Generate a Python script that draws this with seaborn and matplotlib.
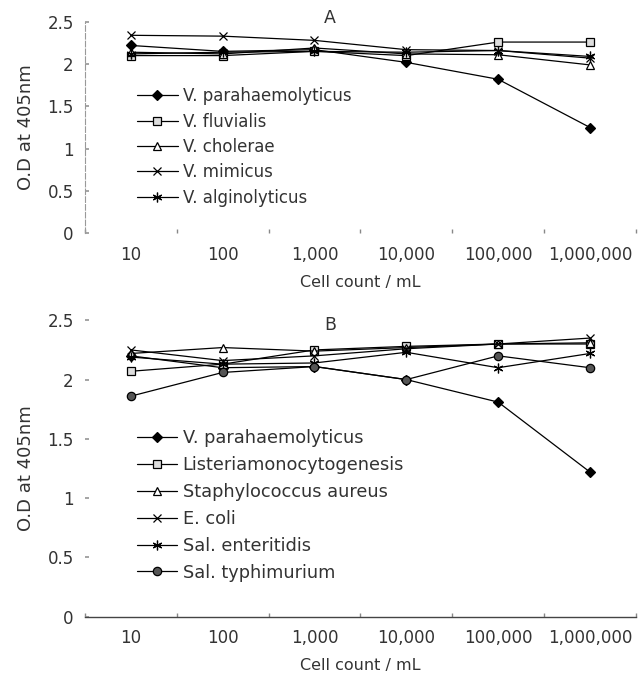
import matplotlib
matplotlib.use("Agg")
import matplotlib.pyplot as plt
import numpy as np
import pandas as pd
import seaborn as sns

# x categories (cell count / mL)
cell_counts = ["10", "100", "1,000", "10,000", "100,000", "1,000,000"]

# Panel A - Vibrio species
vib_names = ["V. parahaemolyticus", "V. fluvialis", "V. cholerae",
             "V. mimicus", "V. alginolyticus"]
v_para = [2.22, 2.15, 2.17, 2.02, 1.82, 1.25]
v_fluv = [2.10, 2.10, 2.15, 2.10, 2.26, 2.26]
v_chol = [2.14, 2.12, 2.19, 2.12, 2.11, 1.99]
v_mimi = [2.34, 2.33, 2.28, 2.17, 2.16, 2.07]
v_algi = [2.12, 2.14, 2.15, 2.14, 2.16, 2.09]

# Panel B - other bacteria
oth_names = ["V. parahaemolyticus", "Listeriamonocytogenesis",
             "Staphylococcus aureus", "E. coli", "Sal. enteritidis",
             "Sal. typhimurium"]
b_para = [2.20, 2.10, 2.11, 2.00, 1.81, 1.22]
b_list = [2.07, 2.13, 2.25, 2.28, 2.30, 2.30]
b_stap = [2.22, 2.27, 2.24, 2.27, 2.30, 2.31]
b_ecol = [2.25, 2.16, 2.20, 2.26, 2.30, 2.35]
b_salE = [2.19, 2.13, 2.14, 2.23, 2.10, 2.22]
b_salT = [1.86, 2.06, 2.11, 2.00, 2.20, 2.10]

# marker style per series: (marker, size, facecolor)
sty_a = [("D", 5, "black"), ("s", 6, "#dddddd"), ("^", 6, "white"),
         ("x", 6, "black"), ((6, 2, 0), 7, "black")]
sty_b = [("D", 5, "black"), ("s", 6, "#dddddd"), ("^", 6, "white"),
         ("x", 6, "black"), ((6, 2, 0), 7, "black"), ("o", 6, "#555555")]

sns.set_theme(style="white")
plt.rcParams["font.family"] = ["DejaVu Sans"]

TXT = "#333333"


def draw_panel(ax, names, series, styles, title, title_y, leg_y, leg_fs,
               spacing, hlen):
    pos = np.arange(len(cell_counts))
    df = pd.DataFrame({"pos": np.tile(pos, len(names)),
                       "od": np.concatenate(series),
                       "sp": np.repeat(names, len(pos))})
    handles = []
    for name, (mk, ms, fc) in zip(names, styles):
        sub = df[df["sp"] == name]
        sns.lineplot(data=sub, x="pos", y="od", ax=ax, color="black",
                     lw=0.9, marker=mk, markersize=ms, markerfacecolor=fc,
                     markeredgecolor="black", markeredgewidth=0.9,
                     label=name, legend=False)
        handles.append(ax.lines[-1])
    ax.set_xlim(-0.5, len(cell_counts) - 0.5)
    ax.set_ylim(0, 2.5)
    ax.set_yticks([0, 0.5, 1, 1.5, 2, 2.5])
    ax.set_yticklabels(["0", "0.5", "1", "1.5", "2", "2.5"])
    ax.set_xticks(pos)
    ax.set_xticklabels(cell_counts)
    ax.set_xticks(np.arange(-0.5, len(cell_counts)), minor=True)
    ax.tick_params(axis="x", which="major", length=0, pad=9, labelsize=12,
                   colors=TXT)
    ax.tick_params(axis="x", which="minor", length=3, direction="in",
                   color="#888888", bottom=True)
    ax.tick_params(axis="y", length=3, direction="in", color="#999999",
                   left=True, labelsize=12, colors=TXT, pad=8)
    ax.set_xlabel("Cell count / mL", fontsize=11.5, color=TXT, labelpad=8)
    ax.set_ylabel("O.D at 405nm", fontsize=13, color=TXT, labelpad=9)
    ax.text(0.445, title_y, title, transform=ax.transAxes, ha="center",
            va="center", fontsize=12.5, color=TXT)
    for s in ["top", "right"]:
        ax.spines[s].set_visible(False)
    ax.legend(handles, names, loc="upper left", frameon=False,
              bbox_to_anchor=(0.094, leg_y), borderaxespad=0, borderpad=0,
              handlelength=hlen, handletextpad=0.3, labelspacing=spacing,
              fontsize=leg_fs, labelcolor=TXT)


fig = plt.figure(figsize=(6.43, 6.80), dpi=100)
ax_a = fig.add_axes([0.132, 0.657, 0.857, 0.311])
ax_b = fig.add_axes([0.132, 0.093, 0.857, 0.436])

draw_panel(ax_a, vib_names, [v_para, v_fluv, v_chol, v_mimi, v_algi],
           sty_a, "A", 1.02, 0.69, 12, 0.44, 2.45)
draw_panel(ax_b, oth_names, [b_para, b_list, b_stap, b_ecol, b_salE, b_salT],
           sty_b, "B", 0.985, 0.632, 12.75, 0.5, 2.3)

ax_a.spines["left"].set_color("#999999")
ax_a.spines["left"].set_linestyle((0, (5, 2)))
ax_a.spines["left"].set_linewidth(0.8)
ax_a.spines["bottom"].set_visible(False)
ax_b.spines["left"].set_visible(False)
ax_b.spines["bottom"].set_color("#444444")
ax_b.spines["bottom"].set_linewidth(1.0)

fig.savefig("out.png", dpi=100)
